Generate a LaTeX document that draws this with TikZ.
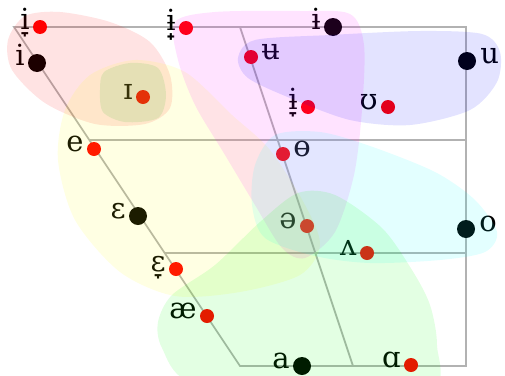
\documentclass[tikz,border=0pt]{standalone}
\usepackage{fontspec}
\setmainfont{DejaVu Serif}
\usetikzlibrary{positioning, calc}

\definecolor{areared}{RGB}{255,0,0}
\definecolor{areayellow}{RGB}{255,255,0}
\definecolor{areaolive}{RGB}{70,190,60}
\definecolor{areamagenta}{RGB}{255,0,255}
\definecolor{areablue}{RGB}{0,0,255}
\definecolor{areacyan}{RGB}{0,255,255}
\definecolor{areagreen}{RGB}{0,255,0}

\begin{document}
\begin{tikzpicture}[
    x=1pt, y=-1pt,
    chart/.style={draw=black!30, line width=1.8pt},
    cardinal/.style={circle, fill=black, inner sep=0pt, minimum size=18pt},
    vowel/.style={circle, fill=red, inner sep=0pt, minimum size=14pt},
    lbl/.style={inner sep=0pt, font=\fontsize{29}{34}\selectfont},
    blob/.style={draw=none, fill opacity=0.11}
]
\useasboundingbox (0,0) rectangle (505,375);

% Chart frame
\coordinate (tl) at (14,27);
\coordinate (tr) at (466,27);
\coordinate (br) at (466,366);
\coordinate (bl) at (240,366);
\coordinate (tm) at ($(tl)!0.5!(tr)$);
\coordinate (bm) at ($(bl)!0.5!(br)$);
\coordinate (cml) at ($(tl)!1/3!(bl)$);
\coordinate (cmr) at ($(tr)!1/3!(br)$);
\coordinate (oml) at ($(tl)!2/3!(bl)$);
\coordinate (omr) at ($(tr)!2/3!(br)$);

\draw[chart] (tl) -- (tr) -- (br) -- (bl) -- cycle;
\draw[chart] (tm) -- (bm);
\draw[chart] (cml) -- (cmr);
\draw[chart] (oml) -- (omr);

% Cardinal vowels
\node[cardinal] (i) at (37,63) {};
\node[cardinal] (ibar) at (333,27) {};
\node[cardinal] (u) at (467,61) {};
\node[cardinal] (eps) at (138,216) {};
\node[cardinal] (o) at (466,229) {};
\node[cardinal] (a) at (302,366) {};

% Measured vowels
\node[vowel] (ilow) at (40,27) {};
\node[vowel] (ibaradv) at (186,28) {};
\node[vowel] (ismall) at (143,97) {};
\node[vowel] (ubar) at (251,57) {};
\node[vowel] (ibarlow) at (308,107) {};
\node[vowel] (upsilon) at (388,107) {};
\node[vowel] (e) at (94,149) {};
\node[vowel] (obar) at (283,154) {};
\node[vowel] (schwa) at (307,226) {};
\node[vowel] (wedge) at (367,253) {};
\node[vowel] (epslow) at (176,269) {};
\node[vowel] (ae) at (207,316) {};
\node[vowel] (alpha) at (411,365) {};

% Labels
\node[lbl, left=3pt of i, anchor=mid east] (i-lbl) {i};
\node[lbl, left=3pt of ibar, anchor=mid east] (ibar-lbl) {ɨ};
\node[lbl, right=4pt of u, anchor=mid west] (u-lbl) {u};
\node[lbl, left=3pt of eps, anchor=mid east] (eps-lbl) {ɛ};
\node[lbl, right=4pt of o, anchor=mid west] (o-lbl) {o};
\node[lbl, left=3pt of a, anchor=mid east] (a-lbl) {a};
\node[lbl, left=3pt of ilow, anchor=mid east] (ilow-lbl) {i̞};
\node[lbl, left=3pt of ibaradv, anchor=mid east] (ibaradv-lbl) {ɨ̟};
\node[lbl, left=3pt of ismall, anchor=mid east] (ismall-lbl) {ɪ};
\node[lbl, right=3pt of ubar, anchor=mid west] (ubar-lbl) {ʉ};
\node[lbl, left=3pt of ibarlow, anchor=mid east] (ibarlow-lbl) {ɨ̞};
\node[lbl, left=3pt of upsilon, anchor=mid east] (upsilon-lbl) {ʊ};
\node[lbl, left=3pt of e, anchor=mid east] (e-lbl) {e};
\node[lbl, right=3pt of obar, anchor=mid west] (obar-lbl) {ɵ};
\node[lbl, left=3pt of schwa, anchor=mid east] (schwa-lbl) {ə};
\node[lbl, left=3pt of wedge, anchor=mid east] (wedge-lbl) {ʌ};
\node[lbl, left=3pt of epslow, anchor=mid east] (epslow-lbl) {ɛ̞};
\node[lbl, left=3pt of ae, anchor=mid east] (ae-lbl) {æ};
\node[lbl, left=3pt of alpha, anchor=mid east] (alpha-lbl) {ɑ};

% Vowel areas
\fill[blob, areared] plot[smooth cycle] coordinates {(8,40) (25,16) (60,12) (110,22) (150,42) (170,75) (170,108) (145,124) (95,124) (45,103) (12,70)};
\fill[blob, areayellow] plot[smooth cycle] coordinates {(58,160) (65,110) (90,75) (135,60) (185,72) (232,115) (270,150) (305,205) (320,245) (300,275) (240,292) (175,296) (120,272) (75,220)};
\fill[blob, areaolive, fill opacity=0.14] plot[smooth cycle] coordinates {(104,72) (130,63) (158,68) (166,95) (158,118) (125,122) (103,112) (100,90)};
\fill[blob, areamagenta] plot[smooth cycle] coordinates {(175,22) (215,12) (300,11) (350,14) (364,45) (362,110) (354,175) (335,232) (305,258) (282,248) (255,205) (225,155) (195,105) (178,60)};
\fill[blob, areablue] plot[smooth cycle] coordinates {(238,58) (255,40) (330,35) (420,31) (482,34) (500,52) (497,82) (470,110) (410,125) (350,120) (290,98) (248,78)};
\fill[blob, areacyan] plot[smooth cycle] coordinates {(255,165) (275,135) (320,132) (370,146) (435,172) (475,200) (497,232) (485,252) (440,260) (370,263) (315,256) (265,238) (252,205)};
\fill[blob, areagreen] plot[smooth cycle] coordinates {(158,322) (172,295) (215,265) (260,222) (298,193) (335,195) (382,228) (412,270) (430,305) (437,345) (430,390) (300,398) (190,382) (162,348)};

\end{tikzpicture}
\end{document}
